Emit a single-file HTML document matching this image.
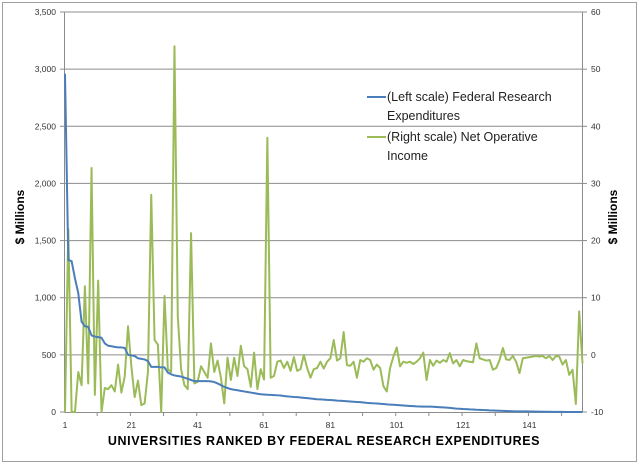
<!DOCTYPE html>
<html><head><meta charset="utf-8"><style>
html,body{margin:0;padding:0;background:#fff;}
svg{display:block;font-family:"Liberation Sans",sans-serif;}
</style></head><body>
<svg id="chart" width="640" height="465" viewBox="0 0 640 465">
<rect x="2.5" y="2.5" width="634" height="459" fill="#fff" stroke="#a0a0a0"/>
<g id="grid"></g>
<g id="axes"></g>
<defs><clipPath id="pc"><rect x="64" y="11" width="520" height="402"/></clipPath></defs>
<g id="series" clip-path="url(#pc)"></g>
<text x="24" y="217" transform="rotate(-90 24 217)" text-anchor="middle" font-size="12" font-weight="bold">$ Millions</text>
<text x="617" y="217" transform="rotate(-90 617 217)" text-anchor="middle" font-size="12" font-weight="bold">$ Millions</text>
<text x="324" y="445" text-anchor="middle" font-size="12.5" font-weight="bold" letter-spacing="0.6">UNIVERSITIES RANKED  BY FEDERAL RESEARCH EXPENDITURES</text>
<g>
<g>
<line x1="367" y1="97" x2="386" y2="97" stroke="#4a7ebb" stroke-width="2"/>
<text x="387" y="101" font-size="12.5" fill="#222">(Left scale) Federal Research</text>
<text x="387" y="120" font-size="12.5" fill="#222">Expenditures</text>
</g>
<g>
<line x1="367" y1="137" x2="386" y2="137" stroke="#9bbb59" stroke-width="2"/>
<text x="387" y="141" font-size="12.5" fill="#222">(Right scale) Net Operative</text>
<text x="387" y="160" font-size="12.5" fill="#222">Income</text>
</g>
</g>
</svg>
<script>
const leftTicks = [0,500,1000,1500,2000,2500,3000,3500];
const leftTickLabels = ["0","500","1,000","1,500","2,000","2,500","3,000","3,500"];
const rightTicks = [-10,0,10,20,30,40,50,60];
const xTickLabels = [1,21,41,61,81,101,121,141];
const federal = [2960,1330,1320,1170,1040,790,750,745,670,660,
655,650,600,580,575,570,565,565,560,500,
495,490,470,465,460,445,395,395,395,390,
390,345,330,320,315,310,300,290,280,270,
270,270,270,270,268,262,250,235,220,210,
200,195,190,185,180,175,170,165,160,155,
153,151,150,148,146,144,140,137,134,131,
130,127,124,121,118,115,112,110,108,106,
105,103,100,98,96,94,92,90,88,86,
83,80,78,76,74,72,70,67,65,63,
61,59,57,55,53,51,49,48,47,47,
47,46,44,42,40,38,36,33,30,28,
26,25,23,22,20,19,17,16,14,13,
12,11,10,9,8,7,6,6,5,5,
4,4,3,3,2,2,2,1,1,1,
1,0,0,0,0,0,0];
const income = [-10,22,-10,-10,-3,-5.3,12,-5,32.7,-7,
13,-10,-5.8,-6,-5.3,-6.4,-1.7,-6.6,-3.8,5,
-2,-7.4,-4.5,-8.8,-8.5,-3,28,2.6,1.8,-10,
10.3,-2.5,-3,54,6.7,-2.5,-5.3,-6,21.3,-5,
-4.7,-2,-3,-4,2,-3,-1,-4,-8.5,-0.5,
-4.4,-0.5,-3.7,1.6,-2,-2.5,-5.6,0.4,-6,-2.5,
-4.3,38,-4,-3.7,-1.2,-1,-2.3,-1.2,-2.8,-0.4,
-2.8,-2.5,0,-2.3,-4,-2.5,-2.3,-1.2,-2.4,-1.2,
-0.6,2.6,-1,-0.6,4,-1.8,
-1.9,-1.2,-4,-0.9,-1.2,-0.6,-0.9,-2.6,-1.7,-2.3,
-5.5,-6.4,-2.3,-0.3,1.3,-2,-1.2,-1.4,-1.2,-1.6,
-1.2,-0.6,0.4,-4.4,-0.9,-1.9,-1.0,-1.4,-0.9,-1.2,
0.3,-1.5,-0.9,-2,-0.9,
-1.1,-1.2,-1.3,2,-0.6,-0.8,-1.0,-0.9,-2.6,-2.3,
-0.9,1.2,-0.8,-0.9,-0.2,-1.2,-3.2,-0.6,-0.5,-0.4,
-0.3,-0.2,-0.3,-0.2,-0.6,-0.2,-0.9,-0.2,-0.3,-1.7,
-0.9,-3.5,-2.6,-8.6,7.6,-1.5];

const NS="http://www.w3.org/2000/svg";
const X0=65, X1=582.5, Y0=412, Y1=12;
const n=federal.length;
function xPos(i){return X0+(i-1)*(X1-X0)/(n-1);}
function yL(v){return Y0-(v-0)/3500*(Y0-Y1);}
function yR(v){return Y0-(v+10)/70*(Y0-Y1);}
function mk(tag,attrs,parent){const e=document.createElementNS(NS,tag);for(const k in attrs)e.setAttribute(k,attrs[k]);parent.appendChild(e);return e;}
const grid=document.getElementById('grid'), axes=document.getElementById('axes'), series=document.getElementById('series');

leftTicks.forEach((t,k)=>{
  const y=yL(t);
  if(t>0){const g=mk('line',{x1:64.5,x2:582.5,y1:y,y2:y,stroke:'#8c8c8c','stroke-width':1},grid);
  
  }
  const tl=mk('line',{x1:60,x2:64.5,y1:y,y2:y,stroke:'#8c8c8c'},axes);
  
  
  const tx=mk('text',{x:56,y:y+3,'text-anchor':'end','font-size':8.5,fill:'#333'},axes);
  tx.textContent=leftTickLabels[k];
  
  
});
rightTicks.forEach(t=>{
  const y=yR(t);
  const tl=mk('line',{x1:582.5,x2:587,y1:y,y2:y,stroke:'#8c8c8c'},axes);
  
  
  const tx=mk('text',{x:591,y:y+3,'font-size':8.5,fill:'#333'},axes);
  tx.textContent=String(t);
  
  
});
const la=mk('line',{x1:64.5,x2:64.5,y1:12,y2:412,stroke:'#8c8c8c'},axes);


const ra=mk('line',{x1:582.5,x2:582.5,y1:12,y2:412,stroke:'#8c8c8c'},axes);


const xa=mk('line',{x1:64.5,x2:582.5,y1:412.5,y2:412.5,stroke:'#8c8c8c'},axes);


for(let i=10.7;i<=n;i+=10){
  const x=xPos(i);
  const tk=mk('line',{x1:x,x2:x,y1:412,y2:416,stroke:'#8c8c8c'},axes);
  
  
}
xTickLabels.forEach(c=>{
  const tx=mk('text',{x:xPos(c),y:428,'text-anchor':'middle','font-size':8.5,fill:'#333'},axes);
  tx.textContent=String(c);
  
  
});
const gp=mk('polyline',{points:income.map((v,i)=>xPos(i+1)+','+yR(v)).join(' '),fill:'none',stroke:'#9bbb59','stroke-width':2,'stroke-linejoin':'round'},series);


const bp=mk('polyline',{points:federal.map((v,i)=>xPos(i+1)+','+yL(v)).join(' '),fill:'none',stroke:'#4a7ebb','stroke-width':2,'stroke-linejoin':'round'},series);


</script>
</body></html>
